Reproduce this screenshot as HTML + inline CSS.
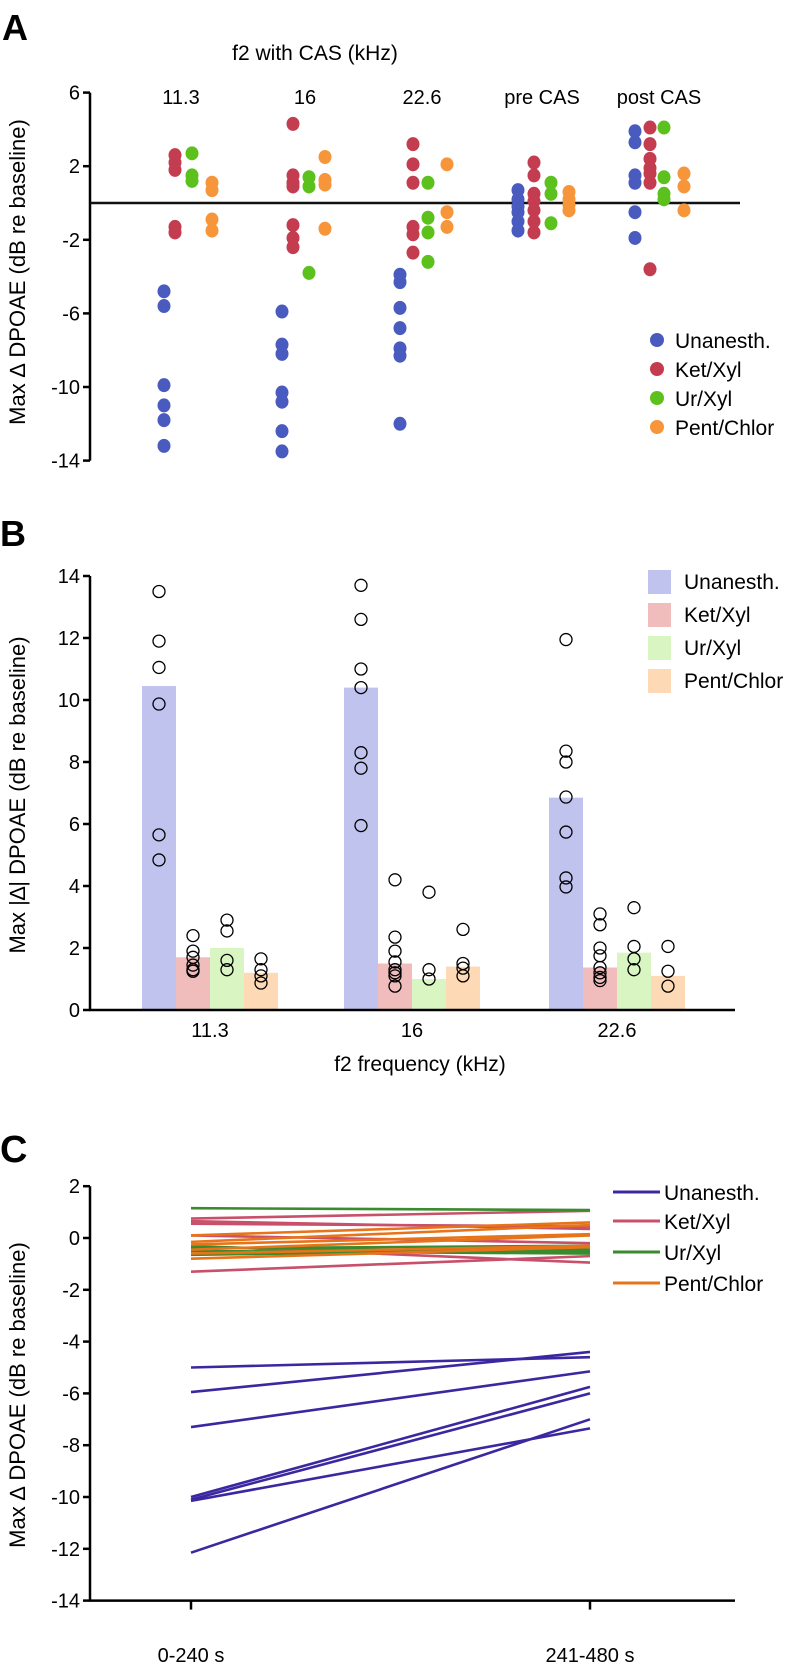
<!DOCTYPE html>
<html><head><meta charset="utf-8"><style>
html,body{margin:0;padding:0;background:#fff;}
svg{display:block;font-family:"Liberation Sans",Arial,sans-serif;}
</style></head><body>
<svg id="fig" width="789" height="1666" viewBox="0 0 789 1666">
<g id="pa"></g>
<g id="pb"></g>
<g id="pc"></g>
</svg>
<script>
// ---------- Panel A data ----------
const aColumns = ["11.3","16","22.6","pre CAS","post CAS"];
const aGroups = ["Unanesth.","Ket/Xyl","Ur/Xyl","Pent/Chlor"];
const aTicks = [6,2,-2,-6,-10,-14];
const aUnanesth = [[-4.8,-5.6,-9.9,-11.0,-11.8,-13.2],[-5.9,-7.7,-8.2,-10.3,-10.8,-12.4,-13.5],[-3.9,-4.3,-5.7,-6.8,-7.9,-8.3,-12.0],[0.7,0.2,-0.2,-0.5,-1.0,-1.5],[3.9,3.3,1.5,1.1,-0.5,-1.9]];
const aKetXyl = [[2.6,2.2,1.8,-1.3,-1.6],[4.3,1.5,1.1,0.9,-1.2,-1.9,-2.4],[3.2,2.1,1.1,-1.3,-1.7,-2.7],[2.2,1.5,0.5,0.1,-0.4,-1.0,-1.6],[4.1,3.2,2.4,1.9,1.6,1.1,-3.6]];
const aUrXyl = [[2.7,1.5,1.2],[1.4,0.9,-3.8],[1.1,-0.8,-1.6,-3.2],[1.1,0.5,-1.1],[4.1,1.4,0.5,0.2]];
const aPentChlor = [[1.1,0.7,-0.9,-1.5],[2.5,1.25,1.0,-1.4],[2.1,-0.5,-1.3],[0.6,0.2,-0.1,-0.4],[1.6,0.9,-0.4]];
// ---------- Panel B data ----------
const bCategories = ["11.3","16","22.6"];
const bTicks = [0,2,4,6,8,10,12,14];
const bMeans = {u:[10.45,10.4,6.85],k:[1.7,1.5,1.37],r:[2.0,1.0,1.85],p:[1.2,1.4,1.1]};
const bUnanesthPts = [[13.5,11.9,11.05,9.87,5.65,4.84],[13.7,12.6,11.0,10.4,8.3,7.8,5.95],[11.95,8.35,8.0,6.87,5.74,4.26,3.97]];
const bKetPts = [[2.4,1.9,1.7,1.45,1.3,1.25],[4.2,2.35,1.9,1.55,1.3,1.2,1.1,0.77],[3.1,2.75,2.0,1.75,1.37,1.2,1.05,0.95]];
const bUrPts = [[2.9,2.55,1.6,1.3],[3.8,1.3,1.0],[3.3,2.05,1.65,1.3]];
const bPentPts = [[1.65,1.3,1.1,0.87],[2.6,1.5,1.35,1.1],[2.05,1.25,0.77]];
// ---------- Panel C data ----------
const cCategories = ["0-240 s","241-480 s"];
const cTicks = [2,0,-2,-4,-6,-8,-10,-12,-14];
const cUnanesth = [[-5.0,-4.6],[-5.95,-4.4],[-7.3,-5.15],[-10.0,-5.75],[-10.1,-6.0],[-10.15,-7.35],[-12.15,-7.0]];
const cKetXyl = [[0.75,1.05],[0.55,0.45],[0.65,0.35],[0.1,-0.2],[-0.3,-0.95],[-1.3,-0.7]];
const cUrXyl = [[1.15,1.08],[-0.35,-0.55],[-0.5,-0.6],[-0.65,-0.45],[-0.4,-0.3]];
const cPentChlor = [[0.1,0.6],[-0.25,0.15],[-0.45,0.1],[-0.6,-0.3],[-0.8,-0.35],[-0.15,0.5]];

const NS="http://www.w3.org/2000/svg";
function mk(parent,tag,attrs,text){const e=document.createElementNS(NS,tag);for(const k in attrs)e.setAttribute(k,attrs[k]);if(text!==undefined)e.textContent=text;parent.appendChild(e);return e;}

// ================= Panel A =================
const pa=document.getElementById('pa');
const ayA=v=>203-v*18.4;
const aColX=[[164,175,192,212],[282,293,309,325],[400,413,428,447],[518,534,551,569],[635,650,664,684]];
const aColors=["#4a5bbf","#c43c50","#5cc11c","#f7953b"];
const aSeries=[aUnanesth,aKetXyl,aUrXyl,aPentChlor];
let t;
t=mk(pa,'text',{x:2,y:40,'font-size':36,'font-weight':'bold'},"A");

t=mk(pa,'text',{x:315,y:60,'font-size':21,'text-anchor':'middle'},"f2 with CAS (kHz)");

const aHdrX=[181,305,422,542,659];
aColumns.forEach((c,i)=>{const e=mk(pa,'text',{x:aHdrX[i],y:104,'font-size':20,'text-anchor':'middle'},c);
});
t=mk(pa,'line',{x1:90,y1:ayA(6),x2:90,y2:ayA(-14),stroke:'#000','stroke-width':2.5});

aTicks.forEach(v=>{mk(pa,'line',{x1:83,y1:ayA(v),x2:90,y2:ayA(v),stroke:'#000','stroke-width':2.5});
const e=mk(pa,'text',{x:80,y:ayA(v)+7,'font-size':20,'text-anchor':'end'},String(v));
});
t=mk(pa,'line',{x1:90,y1:ayA(0),x2:740,y2:ayA(0),stroke:'#111','stroke-width':2.5});

t=mk(pa,'text',{transform:'translate(25,272) rotate(-90)','font-size':22,'text-anchor':'middle'},"Max \u2206 DPOAE (dB re baseline)");

aSeries.forEach((ser,g)=>{ser.forEach((vals,ci)=>{vals.forEach(v=>{
const d=mk(pa,'ellipse',{cx:aColX[ci][g],cy:ayA(v),rx:6.5,ry:7,fill:aColors[g]});
});});});
aGroups.forEach((n,i)=>{const y=340+i*29;
const d=mk(pa,'circle',{cx:657,cy:y,r:7,fill:aColors[i]});

const e=mk(pa,'text',{x:675,y:y+8,'font-size':21},n);
});

// ================= Panel B =================
const pb=document.getElementById('pb');
const byB=v=>1010-v*31;
const bCenters=[210,412,617];
const bw=34;
const bBarColors=["#bfc3ee","#f0bcbc","#d8f5c2","#fdd9b5"];
const bMeanArr=[bMeans.u,bMeans.k,bMeans.r,bMeans.p];
const bPts=[bUnanesthPts,bKetPts,bUrPts,bPentPts];
t=mk(pb,'text',{x:0,y:546,'font-size':36,'font-weight':'bold'},"B");

bCategories.forEach((c,ci)=>{bMeanArr.forEach((arr,g)=>{
const x=bCenters[ci]-2*bw+g*bw;
const r=mk(pb,'rect',{x:x,y:byB(arr[ci]),width:bw,height:byB(0)-byB(arr[ci]),fill:bBarColors[g]});
});});
bCategories.forEach((c,ci)=>{bPts.forEach((ser,g)=>{const cx=bCenters[ci]-2*bw+g*bw+bw/2;
ser[ci].forEach(v=>{const e=mk(pb,'circle',{cx:cx,cy:byB(v),r:6,fill:'none',stroke:'#000','stroke-width':1.3});
});});
const e=mk(pb,'text',{x:bCenters[ci],y:1037,'font-size':20,'text-anchor':'middle'},c);
});
t=mk(pb,'line',{x1:90,y1:byB(14),x2:90,y2:byB(0),stroke:'#000','stroke-width':2.5});

t=mk(pb,'line',{x1:89,y1:byB(0),x2:735,y2:byB(0),stroke:'#000','stroke-width':2.5});

bTicks.forEach(v=>{mk(pb,'line',{x1:83,y1:byB(v),x2:90,y2:byB(v),stroke:'#000','stroke-width':2.5});
const e=mk(pb,'text',{x:80,y:byB(v)+7,'font-size':20,'text-anchor':'end'},String(v));
});
t=mk(pb,'text',{x:420,y:1071,'font-size':21,'text-anchor':'middle'},"f2 frequency (kHz)");

t=mk(pb,'text',{transform:'translate(25,795) rotate(-90)','font-size':22,'text-anchor':'middle'},"Max |\u2206| DPOAE (dB re baseline)");

aGroups.forEach((n,i)=>{const y=570+i*33;
const r=mk(pb,'rect',{x:648,y:y,width:23,height:24,fill:bBarColors[i]});

const e=mk(pb,'text',{x:684,y:y+19,'font-size':21},n);
});

// ================= Panel C =================
const pc=document.getElementById('pc');
const cyC=v=>1238-v*25.9;
const cX=[191,590];
const cColors=["#3b28a0","#c8506a","#3a8a2e","#e8741a"];
const cSeries=[cUnanesth,cKetXyl,cUrXyl,cPentChlor];
t=mk(pc,'text',{x:0,y:1162,'font-size':38,'font-weight':'bold'},"C");

t=mk(pc,'line',{x1:90,y1:cyC(2),x2:90,y2:cyC(-14),stroke:'#000','stroke-width':2.5});

t=mk(pc,'line',{x1:89,y1:cyC(-14),x2:735,y2:cyC(-14),stroke:'#000','stroke-width':2.5});

cTicks.forEach(v=>{mk(pc,'line',{x1:83,y1:cyC(v),x2:90,y2:cyC(v),stroke:'#000','stroke-width':2.5});
const e=mk(pc,'text',{x:80,y:cyC(v)+7,'font-size':20,'text-anchor':'end'},String(v));
});
cCategories.forEach((c,i)=>{mk(pc,'line',{x1:cX[i],y1:cyC(-14),x2:cX[i],y2:cyC(-14)+9,stroke:'#000','stroke-width':2.5});
const e=mk(pc,'text',{x:cX[i],y:1662,'font-size':20,'text-anchor':'middle'},c);
});
[1,2,3,0].forEach(g=>{cSeries[g].forEach(p=>{
const l=mk(pc,'line',{x1:cX[0],y1:cyC(p[0]),x2:cX[1],y2:cyC(p[1]),stroke:cColors[g],'stroke-width':2.6});
});});
t=mk(pc,'text',{transform:'translate(25,1395) rotate(-90)','font-size':22,'text-anchor':'middle'},"Max  \u2206  DPOAE (dB re baseline)");

const cLegY=[1192,1221,1252,1283];
aGroups.forEach((n,i)=>{
const l=mk(pc,'line',{x1:613,y1:cLegY[i],x2:660,y2:cLegY[i],stroke:cColors[i],'stroke-width':3});

const e=mk(pc,'text',{x:664,y:cLegY[i]+8,'font-size':21},n);
});
</script>
</body></html>
